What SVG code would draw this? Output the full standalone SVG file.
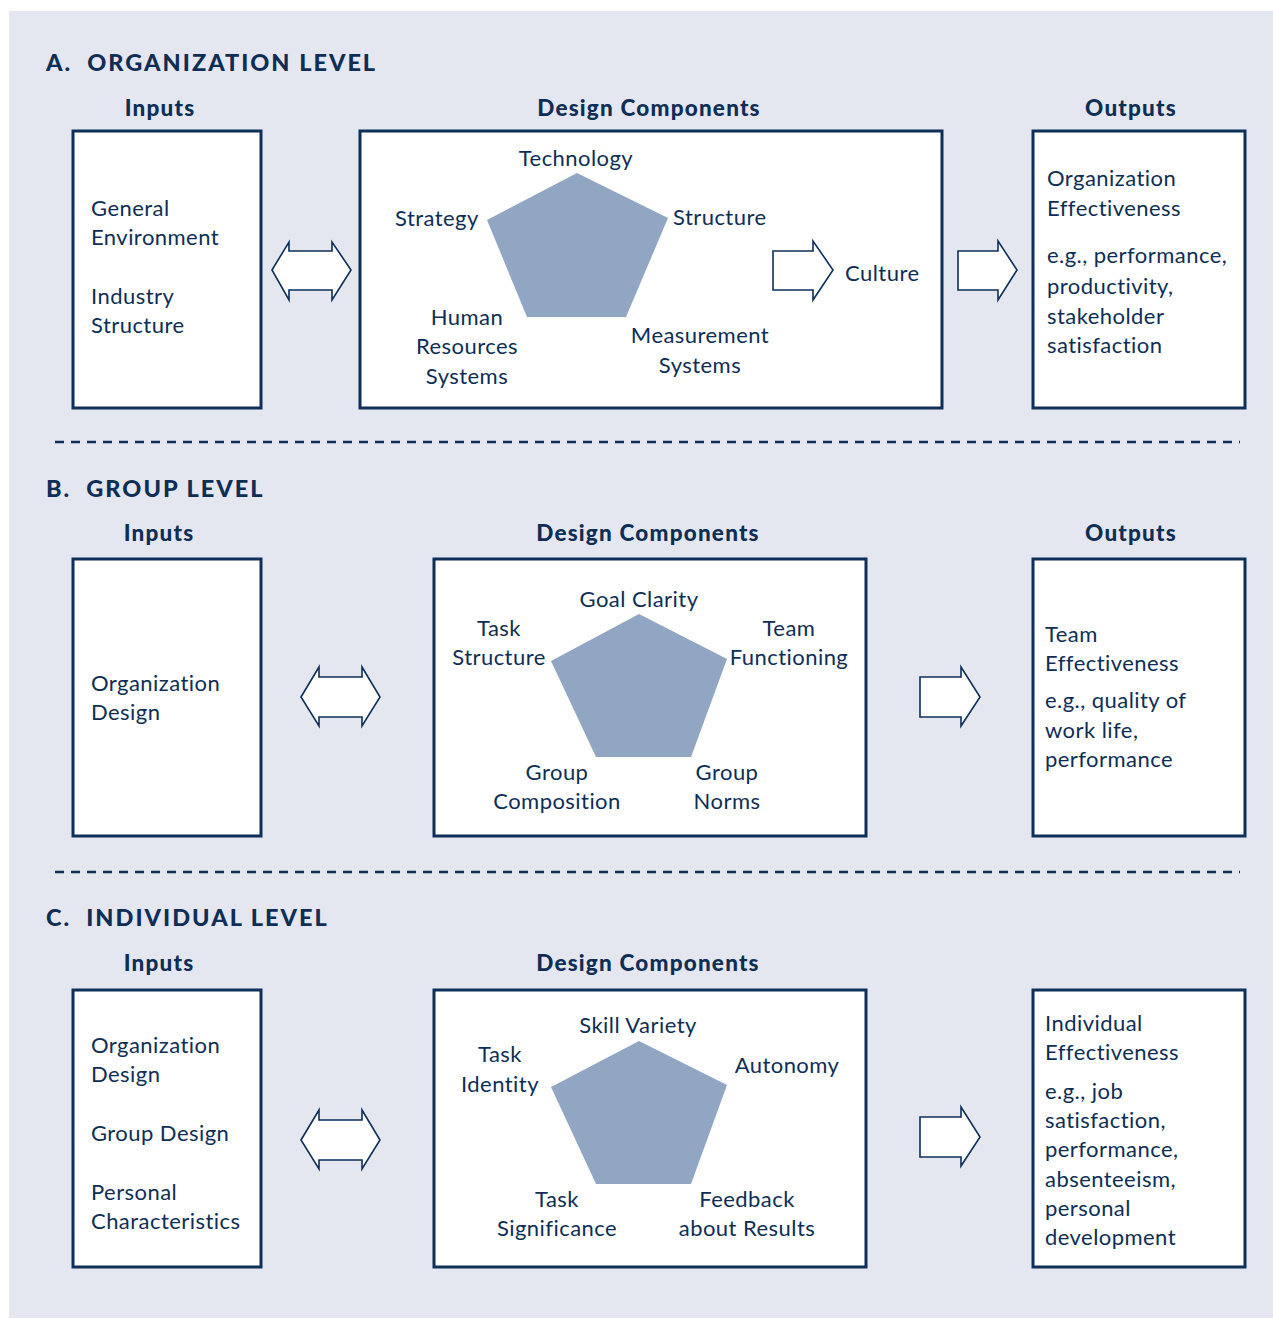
<svg xmlns="http://www.w3.org/2000/svg" width="1273" height="1319" viewBox="0 0 1273 1319">
<style>
text{font-family:Lato,"Open Sans","Liberation Sans",sans-serif;fill:#0e2e55;font-size:22px;letter-spacing:0.45px}
.h{font-weight:900;font-size:22.5px;letter-spacing:1.2px}
.t{font-weight:900;font-size:23.5px;letter-spacing:2px}
.c{text-anchor:middle}
.box{fill:#fff;stroke:#0d2f58;stroke-width:3}
.pent{fill:#90a6c2}
.arr{fill:#fff;stroke:#0d2f58;stroke-width:1.6;stroke-linejoin:miter}
.dash{stroke:#0d2f58;stroke-width:2.5;stroke-dasharray:9,7;fill:none}
</style>
<rect x="9" y="11" width="1264" height="1307" fill="#e4e7f0"/>

<!-- Section A -->
<g id="sectionA">
<text class="t" x="46" y="71">A.&#160; ORGANIZATION LEVEL</text>
<text class="h c" x="160" y="116">Inputs</text>
<text class="h c" x="649" y="116">Design Components</text>
<text class="h c" x="1131" y="116">Outputs</text>
</g>
<g id="a-inputs">
<rect class="box" x="73" y="131" width="188" height="277"/>
<text x="91" y="216">General</text>
<text x="91" y="245">Environment</text>
<text x="91" y="304">Industry</text>
<text x="91" y="333">Structure</text>
</g>
<g id="a-design">
<rect class="box" x="360" y="131" width="582" height="277"/>
<polygon class="pent" points="577,173 668,218 626,317 527,317 487,220"/>
<text class="c" x="576" y="166">Technology</text>
<text x="395" y="226">Strategy</text>
<text x="673" y="225">Structure</text>
<text x="845" y="281">Culture</text>
<text class="c" x="467" y="325">Human</text>
<text class="c" x="467" y="354">Resources</text>
<text class="c" x="467" y="384">Systems</text>
<text class="c" x="700" y="343">Measurement</text>
<text class="c" x="700" y="373">Systems</text>
</g>
<g id="a-outputs">
<rect class="box" x="1033" y="131" width="212" height="277"/>
<text x="1047" y="186">Organization</text>
<text x="1047" y="216">Effectiveness</text>
<text x="1047" y="263">e.g., performance,</text>
<text x="1047" y="294">productivity,</text>
<text x="1047" y="324">stakeholder</text>
<text x="1047" y="353">satisfaction</text>
</g>

<!-- Section B -->
<g id="sectionB">
<text class="t" x="46" y="497">B.&#160; GROUP LEVEL</text>
<text class="h c" x="159" y="541">Inputs</text>
<text class="h c" x="648" y="541">Design Components</text>
<text class="h c" x="1131" y="541">Outputs</text>
</g>
<g id="b-inputs">
<rect class="box" x="73" y="559" width="188" height="277"/>
<text x="91" y="691">Organization</text>
<text x="91" y="720">Design</text>
</g>
<g id="b-design">
<rect class="box" x="434" y="559" width="432" height="277"/>
<polygon class="pent" points="639,614 727,659 691,757 596,757 551,661"/>
<text class="c" x="639" y="607">Goal Clarity</text>
<text class="c" x="499" y="636">Task</text>
<text class="c" x="499" y="665">Structure</text>
<text class="c" x="789" y="636">Team</text>
<text class="c" x="789" y="665">Functioning</text>
<text class="c" x="557" y="780">Group</text>
<text class="c" x="557" y="809">Composition</text>
<text class="c" x="727" y="780">Group</text>
<text class="c" x="727" y="809">Norms</text>
</g>
<g id="b-outputs">
<rect class="box" x="1033" y="559" width="212" height="277"/>
<text x="1045" y="642">Team</text>
<text x="1045" y="671">Effectiveness</text>
<text x="1045" y="708">e.g., quality of</text>
<text x="1045" y="738">work life,</text>
<text x="1045" y="767">performance</text>
</g>

<!-- Section C -->
<g id="sectionC">
<text class="t" x="46" y="926">C.&#160; INDIVIDUAL LEVEL</text>
<text class="h c" x="159" y="971">Inputs</text>
<text class="h c" x="648" y="971">Design Components</text>
</g>
<g id="c-inputs">
<rect class="box" x="73" y="990" width="188" height="277"/>
<text x="91" y="1053">Organization</text>
<text x="91" y="1082">Design</text>
<text x="91" y="1141">Group Design</text>
<text x="91" y="1200">Personal</text>
<text x="91" y="1229">Characteristics</text>
</g>
<g id="c-design">
<rect class="box" x="434" y="990" width="432" height="277"/>
<polygon class="pent" points="639,1041 727,1085 691,1184 596,1184 551,1087"/>
<text class="c" x="638" y="1033">Skill Variety</text>
<text class="c" x="500" y="1062">Task</text>
<text class="c" x="500" y="1092">Identity</text>
<text class="c" x="787" y="1073">Autonomy</text>
<text class="c" x="557" y="1207">Task</text>
<text class="c" x="557" y="1236">Significance</text>
<text class="c" x="747" y="1207">Feedback</text>
<text class="c" x="747" y="1236">about Results</text>
</g>
<g id="c-outputs">
<rect class="box" x="1033" y="990" width="212" height="277"/>
<text x="1045" y="1031">Individual</text>
<text x="1045" y="1060">Effectiveness</text>
<text x="1045" y="1099">e.g., job</text>
<text x="1045" y="1128">satisfaction,</text>
<text x="1045" y="1157">performance,</text>
<text x="1045" y="1187">absenteeism,</text>
<text x="1045" y="1216">personal</text>
<text x="1045" y="1245">development</text>
</g>

<g id="connectors">
<line class="dash" x1="55" y1="442" x2="1240" y2="442"/>
<line class="dash" x1="55" y1="872" x2="1240" y2="872"/>
<polygon class="arr" points="272,270 289,242 289,251 332,251 332,242 351,270 332,300 332,290 289,290 289,300"/>
<polygon class="arr" points="773,251 813,251 813,241 833,270 813,300 813,290 773,290"/>
<polygon class="arr" points="958,251 998,251 998,241 1017,270 998,300 998,290 958,290"/>
<polygon class="arr" points="301,697 319,667 319,677 362,677 362,667 380,697 362,726 362,717 319,717 319,726"/>
<polygon class="arr" points="920,677 961,677 961,667 980,697 961,726 961,717 920,717"/>
<polygon class="arr" points="301,1140 319,1110 319,1120 362,1120 362,1110 380,1140 362,1169 362,1160 319,1160 319,1169"/>
<polygon class="arr" points="920,1117 961,1117 961,1107 980,1137 961,1166 961,1157 920,1157"/>
</g>
</svg>
